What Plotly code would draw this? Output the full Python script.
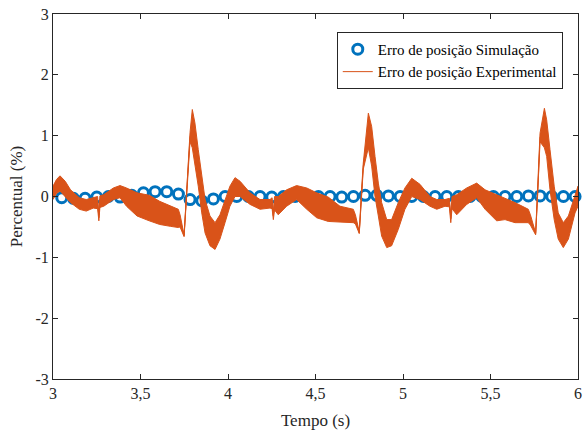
import plotly.graph_objects as go

# Experimental error envelope: time, upper, lower (%)
t_exp = [3.00, 3.02, 3.04, 3.07, 3.10, 3.15, 3.19, 3.23, 3.255, 3.262, 3.268, 3.29, 3.345, 3.383, 3.42, 3.48,
         3.55, 3.61, 3.67, 3.716, 3.726, 3.749, 3.766, 3.783, 3.796, 3.811, 3.83, 3.85, 3.869, 3.897, 3.926,
         3.954, 3.983, 4.011, 4.04, 4.069, 4.126, 4.183, 4.24, 4.252, 4.259, 4.266, 4.287, 4.335, 4.392,
         4.45, 4.507, 4.573, 4.64, 4.716, 4.728, 4.75, 4.762, 4.773, 4.802, 4.821, 4.84, 4.859, 4.878,
         4.907, 4.935, 4.973, 5.011, 5.05, 5.097, 5.154, 5.193, 5.24, 5.265, 5.273, 5.28, 5.307, 5.364,
         5.421, 5.469, 5.535, 5.583, 5.64, 5.716, 5.728, 5.758, 5.77, 5.783, 5.808, 5.821, 5.84, 5.864,
         5.887, 5.916, 5.945, 5.983, 6.00]
upper_exp = [0.17, 0.28, 0.34, 0.25, 0.11, -0.02, -0.05, -0.02, 0.0, -0.30, 0.01, 0.03, 0.14, 0.18, 0.14, 0.06,
             0.02, -0.08, -0.16, -0.21, -0.30, -0.63, 0.20, 1.05, 1.43, 1.21, 0.77, 0.33, -0.05, -0.32, -0.43,
             -0.30, -0.05, 0.17, 0.31, 0.25, 0.06, -0.05, -0.05, -0.02, -0.25, 0.0, 0.0, 0.11, 0.18,
             0.14, 0.06, -0.01, -0.16, -0.21, -0.30, -0.58, 0.05, 0.55, 1.37, 1.15, 0.66, 0.22, -0.10,
             -0.38, -0.38, -0.10, 0.14, 0.30, 0.20, 0.0, -0.05, -0.05, -0.03, -0.30, 0.0, 0.03, 0.14,
             0.22, 0.11, 0.03, -0.02, -0.10, -0.21, -0.30, -0.60, 0.10, 1.04, 1.45, 1.26, 0.77, 0.17,
             -0.27, -0.43, -0.32, 0.0, 0.17]
lower_exp = [-0.05, 0.05, 0.09, 0.0, -0.10, -0.21, -0.24, -0.19, -0.20, -0.40, -0.18, -0.16, -0.05, -0.02, -0.16, -0.32,
             -0.40, -0.46, -0.49, -0.51, -0.50, -0.66, 0.17, 0.90, 0.80, 0.50, 0.17, -0.27, -0.60, -0.81, -0.87,
             -0.70, -0.43, -0.16, 0.0, 0.0, -0.13, -0.21, -0.19, -0.20, -0.38, -0.22, -0.30, -0.16, -0.05,
             -0.21, -0.35, -0.41, -0.42, -0.43, -0.45, -0.61, 0.02, 0.45, 0.80, 0.50, 0.0, -0.32, -0.65,
             -0.84, -0.81, -0.54, -0.21, 0.0, -0.05, -0.16, -0.21, -0.16, -0.17, -0.43, -0.20, -0.30, -0.13,
             -0.02, -0.21, -0.40, -0.38, -0.43, -0.43, -0.47, -0.63, 0.07, 0.90, 0.80, 0.66, 0.11, -0.38,
             -0.70, -0.84, -0.70, -0.27, -0.16]

# Simulation error markers
t_sim = [3.05 + k / 15 for k in range(45)]
y_sim = [-0.02, -0.03, -0.03, -0.01, 0.0, -0.01, 0.02, 0.06, 0.08, 0.08, 0.04, -0.05, -0.07, -0.04, 0.0,
         0.0, 0.0, 0.0, -0.01, 0.0, 0.0, 0.0, 0.0, 0.0, -0.01, 0.0, 0.02, 0.02, 0.01, 0.0,
         0.0, 0.0, 0.0, 0.0, 0.0, 0.0, 0.0, 0.0, 0.0, 0.0, 0.01, 0.01, 0.0, 0.0, 0.0]

x_ticks = [3, 3.5, 4, 4.5, 5, 5.5, 6]
x_ticktext = ["3", "3,5", "4", "4,5", "5", "5,5", "6"]
y_ticks = [-3, -2, -1, 0, 1, 2, 3]
y_ticktext = ["-3", "-2", "-1", "0", "1", "2", "3"]

blue = "#0072BD"
orange = "#D95319"

fig = go.Figure()
fig.add_trace(go.Scatter(
    x=t_sim, y=y_sim, mode="markers", name="Erro de posição Simulação",
    marker=dict(symbol="circle-open", size=10, color=blue, line=dict(width=3, color=blue)),
    legendrank=1, cliponaxis=False))
fig.add_trace(go.Scatter(
    x=t_exp + t_exp[::-1], y=upper_exp + lower_exp[::-1], mode="lines", fill="toself",
    fillcolor=orange, line=dict(color=orange, width=1), showlegend=False, hoverinfo="skip"))
center = [(u + l) / 2 for u, l in zip(upper_exp, lower_exp)]
fig.add_trace(go.Scatter(
    x=t_exp, y=center, mode="lines", name="Erro de posição Experimental",
    line=dict(color=orange, width=1), legendrank=2))

axis_common = dict(showgrid=False, zeroline=False, showline=True, linecolor="#262626", linewidth=1,
                   mirror="ticks", ticks="inside", ticklen=5, tickcolor="#262626", automargin=False,
                   tickfont=dict(family="Liberation Serif", size=16, color="#262626"))
fig.update_xaxes(range=[3, 6], tickvals=x_ticks, ticktext=x_ticktext,
                 title=dict(text="Tempo (s)", font=dict(family="Liberation Serif", size=17, color="#262626"), standoff=12),
                 **axis_common)
fig.update_yaxes(range=[-3, 3], tickvals=y_ticks, ticktext=y_ticktext,
                 title=dict(text="Percentual (%)", font=dict(family="Liberation Serif", size=17, color="#262626"), standoff=8),
                 **axis_common)
fig.update_layout(
    width=585, height=432, margin=dict(l=53, r=7, t=14, b=53),
    paper_bgcolor="white", plot_bgcolor="white",
    legend=dict(x=0.971, y=0.951, xanchor="right", yanchor="top", bgcolor="white",
                bordercolor="#262626", borderwidth=1,
                font=dict(family="Liberation Serif", size=15, color="black"),
                tracegroupgap=0, itemwidth=30),
    showlegend=True)
fig.write_html("out.html", config={"displayModeBar": False},
               post_script="document.body.style.margin='0';")
